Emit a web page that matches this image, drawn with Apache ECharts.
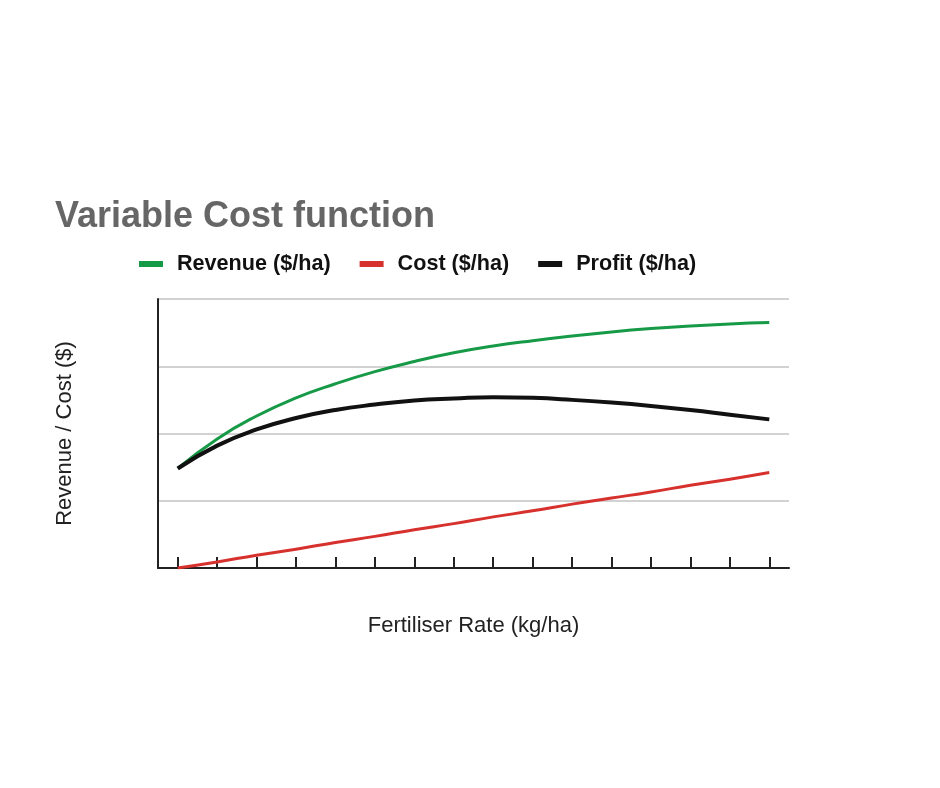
<!DOCTYPE html>
<html>
<head>
<meta charset="utf-8">
<script src="https://cdn.jsdelivr.net/npm/echarts@6/dist/echarts.min.js"></script>
<style>
  html, body { margin: 0; padding: 0; background: #fff; }
  #chart { width: 940px; height: 788px; }
</style>
</head>
<body>
<div id="chart"></div>
<script>
// fertiliser rate steps (no labels shown on the axis)
var rates = ['0', '1', '2', '3', '4', '5', '6', '7', '8', '9', '10', '11', '12', '13', '14', '15'];
var revenue = [1.48, 1.92, 2.26, 2.53, 2.74, 2.92, 3.07, 3.20, 3.30, 3.38, 3.45, 3.51, 3.56, 3.60, 3.63, 3.65];
var cost = [0, 0.09, 0.19, 0.28, 0.38, 0.47, 0.57, 0.66, 0.76, 0.85, 0.95, 1.04, 1.13, 1.23, 1.32, 1.42];
var profit = [1.48, 1.82, 2.06, 2.23, 2.35, 2.43, 2.49, 2.52, 2.54, 2.53, 2.50, 2.46, 2.41, 2.35, 2.28, 2.21];

var myChart = echarts.init(document.getElementById('chart'));
var option = {
    backgroundColor: '#fff',
    animation: false,
    textStyle: { fontFamily: 'Liberation Sans, Arial, sans-serif' },
    title: {
        text: 'Variable Cost function',
        left: 50,
        top: 194,
        textStyle: { fontSize: 36, fontWeight: 'bold', color: '#666666' }
    },
    legend: {
        left: 134,
        top: 248,
        icon: 'rect',
        itemWidth: 24,
        itemHeight: 6,
        itemGap: 29,
        textStyle: { fontSize: 21.6, fontWeight: 'bold', color: '#111', padding: [0, 0, 0, 9] },
        data: ['Revenue ($/ha)', 'Cost ($/ha)', 'Profit ($/ha)']
    },
    grid: { left: 158, right: 151, top: 299, bottom: 220 },
    xAxis: {
        type: 'category',
        data: rates,
        boundaryGap: true,
        name: 'Fertiliser Rate (kg/ha)',
        nameLocation: 'middle',
        nameGap: 47,
        nameTextStyle: { fontSize: 22, color: '#222' },
        axisLine: { lineStyle: { color: '#222', width: 2 } },
        axisTick: { show: true, alignWithLabel: true, inside: true, length: 11, lineStyle: { color: '#222', width: 2 } },
        axisLabel: { show: false },
        splitLine: { show: false }
    },
    yAxis: {
        type: 'value',
        min: 0,
        max: 4,
        interval: 1,
        name: 'Revenue / Cost ($)',
        nameLocation: 'middle',
        nameGap: 82,
        nameTextStyle: { fontSize: 22, color: '#222' },
        axisLine: { show: true, lineStyle: { color: '#222', width: 2 } },
        axisTick: { show: false },
        axisLabel: { show: false },
        splitLine: { lineStyle: { color: '#d2d2d2', width: 2 } }
    },
    series: [
        {
            name: 'Revenue ($/ha)',
            type: 'line',
            data: revenue,
            smooth: true,
            symbol: 'none',
            itemStyle: { color: '#179a47' },
            lineStyle: { color: '#179a47', width: 3 }
        },
        {
            name: 'Cost ($/ha)',
            type: 'line',
            data: cost,
            smooth: true,
            symbol: 'none',
            itemStyle: { color: '#d7312d' },
            lineStyle: { color: '#d7312d', width: 3 }
        },
        {
            name: 'Profit ($/ha)',
            type: 'line',
            data: profit,
            smooth: true,
            symbol: 'none',
            itemStyle: { color: '#111' },
            lineStyle: { color: '#111', width: 4 }
        }
    ]
};
myChart.setOption(option);
</script>
</body>
</html>
